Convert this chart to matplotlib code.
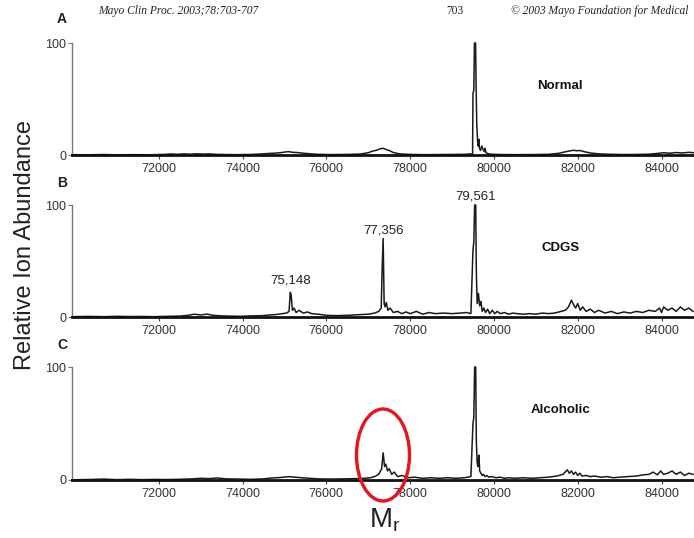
import matplotlib
matplotlib.use("Agg")
import matplotlib.pyplot as plt
from matplotlib.patches import Ellipse

plt.rcParams['font.family'] = ['Liberation Sans', 'DejaVu Sans']

# ---------------- data ----------------
x_ticks = [72000, 74000, 76000, 78000, 80000, 82000, 84000]
y_ticks = [0, 100]
panel_letters = ["A", "B", "C"]
panel_names = ["Normal", "CDGS", "Alcoholic"]

mass_A = [69930, 70300, 70700, 71000, 71400, 71800, 72100, 72300, 72450, 72600,
          72750, 72900, 73050, 73200, 73350, 73600, 73900, 74200, 74450, 74600,
          74750, 74900, 75000, 75100, 75200, 75300, 75450, 75600, 75800, 76100,
          76500, 76800, 77000, 77100, 77200, 77280, 77350, 77420, 77500, 77600,
          77750, 78000, 78300, 78700, 79000, 79300, 79450, 79490, 79500, 79520,
          79535, 79562, 79575, 79590, 79610, 79625, 79640, 79655, 79680, 79710,
          79740, 79770, 79790, 79810, 79840, 79900, 80000, 80200, 80500, 80900,
          81300, 81550, 81700, 81800, 81900, 81980, 82060, 82150, 82300, 82500,
          82800, 83100, 83400, 83700, 83900, 84050, 84200, 84350, 84500, 84650,
          84800]
int_A = [0.3, 0.2, 0.4, 0.2, 0.3, 0.2, 0.5, 0.9, 0.6, 1.0,
         0.7, 1.1, 0.8, 1.0, 0.6, 0.4, 0.3, 0.5, 0.9, 1.3,
         1.6, 2.0, 2.6, 3.0, 2.4, 2.2, 1.6, 1.1, 0.6, 0.4,
         0.5, 0.8, 2.0, 3.5, 4.2, 5.5, 6.0, 5.0, 4.0, 2.2,
         1.0, 0.5, 0.3, 0.4, 0.5, 0.6, 1.0, 0.5, 55, 58,
         100, 100, 60, 28, 12, 8, 14, 6, 4, 8,
         5, 3, 6, 2, 1.5, 0.8, 0.6, 0.4, 0.3, 0.4,
         0.6, 1.5, 2.8, 3.6, 4.2, 3.8, 4.0, 3.0, 1.8, 1.0,
         0.6, 0.4, 0.5, 0.7, 1.4, 2.0, 1.6, 2.2, 1.8, 2.4,
         1.9]

mass_B = [69930, 70300, 70700, 71000, 71300, 71600, 71900, 72200, 72500, 72700,
          72850, 73000, 73150, 73300, 73500, 73700, 73950, 74200, 74450, 74650,
          74800, 74950, 75050, 75110, 75140, 75160, 75190, 75230, 75280, 75350,
          75450, 75550, 75650, 75800, 76000, 76250, 76500, 76750, 77000, 77150,
          77250, 77310, 77330, 77356, 77380, 77400, 77430, 77470, 77520, 77600,
          77700, 77800, 77900, 78000, 78150, 78300, 78450, 78600, 78800, 79000,
          79200, 79350, 79450, 79500, 79520, 79540, 79565, 79580, 79600, 79630,
          79660, 79690, 79720, 79760, 79800, 79850, 79900, 79960, 80020, 80080,
          80150, 80250, 80350, 80450, 80550, 80700, 80850, 81000, 81150, 81300,
          81450, 81600, 81700, 81780, 81850, 81900, 81950, 82000, 82060, 82120,
          82200, 82300, 82400, 82500, 82650, 82800, 82950, 83100, 83250, 83400,
          83550, 83700, 83850, 83950, 84000, 84050, 84150, 84250, 84350, 84450,
          84550, 84650, 84750]
int_B = [0.3, 0.5, 0.3, 0.6, 0.4, 0.5, 0.3, 0.6, 0.8, 1.5,
         2.5, 1.8, 2.6, 1.5, 1.0, 0.8, 0.6, 1.0, 1.2, 1.8,
         2.2, 3.0, 3.5, 5, 22, 20, 6, 8, 4, 6,
         3.5, 4.5, 3, 2.5, 1.5, 1.2, 1.5, 2.0, 2.5, 3.5,
         5, 8, 40, 70, 12, 9, 13, 6, 8, 4,
         5, 3, 4.5, 3, 5, 2.5, 4, 3, 3.5, 3,
         3.5, 4, 3, 60, 67, 100, 100, 40, 12, 21,
         10, 14, 5, 8, 4, 7, 3, 6, 3, 5,
         3, 4, 2.5, 3.5, 3, 2.5, 3, 2.5, 3.5, 3,
         3.5, 5, 6, 9, 15, 11, 8, 12, 6, 9,
         5, 7, 4, 6, 3.5, 5, 3, 4.5, 3.5, 5,
         4, 6, 5, 8, 4, 9, 6, 8, 5, 9,
         6, 8, 5]

mass_C = [69930, 70300, 70700, 71000, 71300, 71600, 71900, 72200, 72500, 72800,
          73000, 73200, 73400, 73600, 73900, 74200, 74500, 74700, 74900, 75100,
          75250, 75400, 75600, 75800, 76100, 76400, 76700, 76900, 77050, 77150,
          77250, 77320, 77356, 77390, 77420, 77460, 77500, 77560, 77620, 77700,
          77800, 77950, 78100, 78300, 78500, 78700, 78900, 79100, 79300, 79450,
          79500, 79520, 79540, 79565, 79580, 79600, 79620, 79640, 79660, 79690,
          79720, 79750, 79790, 79830, 79880, 79950, 80050, 80150, 80250, 80350,
          80500, 80700, 80900, 81100, 81300, 81500, 81650, 81750, 81800, 81850,
          81900, 81950, 82000, 82050, 82100, 82200, 82300, 82400, 82550, 82700,
          82850, 83000, 83200, 83400, 83550, 83700, 83800, 83900, 83980, 84050,
          84150, 84250, 84350, 84450, 84550, 84650, 84750]
int_C = [0.2, 0.4, 0.8, 0.3, 0.6, 0.3, 0.5, 0.4, 0.6, 1.0,
         1.5, 1.2, 1.8, 1.0, 0.8, 0.6, 1.0, 1.8, 2.2, 3.0,
         2.5, 2.0, 1.5, 1.0, 0.8, 1.0, 1.2, 1.5, 2.0, 3.0,
         5, 10, 24, 12, 14, 8, 10, 5, 7, 3,
         4, 2, 2.5, 1.5, 2, 1.5, 2, 1.5, 2, 3,
         50, 55, 100, 100, 35, 15, 12, 22, 8, 6,
         4, 5, 3, 4, 2.5, 3, 2, 2.5, 1.5, 2,
         1.5, 2, 1.5, 2, 2.5, 3.5, 5, 9, 6, 8,
         5, 7, 4, 6, 3.5, 4, 3, 3.5, 2.5, 3,
         2, 2.5, 3, 3.5, 4.5, 5, 7, 4.5, 8, 5,
         6, 8, 5, 7, 4, 6, 5]

peak_labels_B = ["75,148", "77,356", "79,561"]
peak_mass_B = [75148, 77356, 79561]
peak_label_y_B = [27, 72, 102]

masses = [mass_A, mass_B, mass_C]
intensities = [int_A, int_B, int_C]

# ---------------- figure ----------------
W, H = 694, 538
fig = plt.figure(figsize=(W / 100, H / 100), dpi=100)


def fx(x):
    return x / W


def fy(y):
    return 1 - y / H


panel_px = [(43, 155), (205, 317), (367, 480)]
left_px = 72
xmin, xmax = 69930, 84775

axes = []
for i, (top, bot) in enumerate(panel_px):
    ax = fig.add_axes([fx(left_px), fy(bot), 1 - fx(left_px), (bot - top) / H])
    ax.plot(masses[i], intensities[i], color='#1a1a1a', lw=1.1, clip_on=False)
    ax.set_xlim(xmin, xmax)
    ax.set_ylim(0, 100)
    for s in ['top', 'right']:
        ax.spines[s].set_visible(False)
    ax.spines['left'].set_color('#777777')
    ax.spines['left'].set_linewidth(1.0)
    ax.spines['bottom'].set_color('#111111')
    ax.spines['bottom'].set_linewidth(2.0)
    ax.set_xticks(x_ticks)
    ax.set_xticklabels([str(t) for t in x_ticks])
    ax.set_yticks(y_ticks)
    ax.set_yticklabels([str(t) for t in y_ticks])
    ax.tick_params(axis='x', length=3, width=0.8, color='#444444', pad=3,
                   labelsize=9, labelcolor='#333333')
    ax.tick_params(axis='y', length=3, width=0.8, color='#777777', pad=1,
                   labelsize=9, labelcolor='#333333')
    ax.patch.set_alpha(0)
    axes.append(ax)
    # panel name
    ax.text(0.785, 0.62, panel_names[i], transform=ax.transAxes, ha='center',
            va='center', fontsize=9.5, fontweight='bold', color='#111111')

# peak labels in panel B
for lab, m, yv in zip(peak_labels_B, peak_mass_B, peak_label_y_B):
    axes[1].text(m, yv, lab, ha='center', va='bottom', fontsize=9.5,
                 color='#222222', clip_on=False)

# panel letters
for lab, y in zip(panel_letters, [19, 183, 345]):
    fig.text(fx(62), fy(y), lab, ha='center', va='center', fontsize=10,
             fontweight='bold', color='#222222')

# header
fig.text(fx(98), fy(11), "Mayo Clin Proc. 2003;78:703-707", ha='left',
         va='center', fontsize=8.3, style='italic', family='Liberation Serif',
         color='#222222')
fig.text(fx(455), fy(11), "703", ha='center', va='center', fontsize=8.3,
         family='Liberation Serif', color='#222222')
fig.text(fx(511), fy(11), "\u00a9 2003 Mayo Foundation for Medical", ha='left',
         va='center', fontsize=8.3, style='italic', family='Liberation Serif',
         color='#222222')

# axis labels
fig.text(fx(25), fy(245), "Relative Ion Abundance", rotation=90, ha='center',
         va='center', fontsize=17, color='#222222')
fig.text(fx(385), fy(520), r"$\mathregular{M_r}$", ha='center', va='center',
         fontsize=20, color='#222222')

# red ellipse annotation
ell = Ellipse((fx(383), fy(455)), width=53 / W, height=92 / H,
              transform=fig.transFigure, fill=False, edgecolor='#e8141b', lw=2.4)
fig.patches.append(ell)

fig.savefig("out.png", dpi=100)
